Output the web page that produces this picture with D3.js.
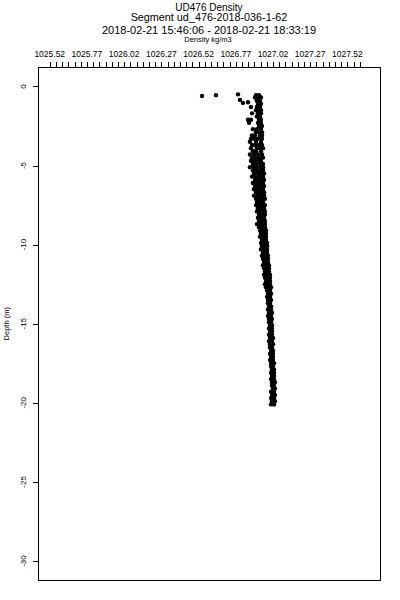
<!DOCTYPE html>
<html>
<head>
<meta charset="utf-8">
<script src="https://cdn.jsdelivr.net/npm/d3@7"></script>
<style>
  html, body { margin: 0; padding: 0; background: #fff; }
  svg { display: block; }
</style>
</head>
<body>
<div id="chart"></div>
<script>
// titles
const titleLines = ['UD476 Density', 'Segment ud_476-2018-036-1-62', '2018-02-21 15:46:06 - 2018-02-21 18:33:19'];
const xTitle = 'Density kg/m3';
const yTitle = 'Depth (m)';

// axis ticks
const xTickLabels = [1025.52, 1025.77, 1026.02, 1026.27, 1026.52, 1026.77, 1027.02, 1027.27, 1027.52];
const xMinorStep = 0.25 / 6;
const xMinorCount = 51;
const yTicks = [0, -5, -10, -15, -20, -25, -30];

// profile rows: [depth, density, density, ...]
const profile = [
  [-0.60, 1026.543], [-0.55, 1026.637], [-0.50, 1026.785],
  [-0.85, 1026.798], [-1.05, 1026.818], [-1.00, 1026.852],
  [-0.55, 1026.906, 1026.926], [-0.7, 1026.899, 1026.919, 1026.939],
  [-0.9, 1026.912, 1026.933], [-1.1, 1026.919, 1026.939],
  [-1.3, 1026.872, 1026.912, 1026.933], [-1.5, 1026.906, 1026.926, 1026.939],
  [-1.7, 1026.879, 1026.919, 1026.939], [-1.9, 1026.912, 1026.933],
  [-2.1, 1026.852, 1026.872, 1026.926, 1026.939], [-2.3, 1026.859, 1026.919, 1026.939],
  [-2.5, 1026.926, 1026.946], [-2.7, 1026.885, 1026.912, 1026.939],
  [-2.9, 1026.906, 1026.926, 1026.946], [-3.1, 1026.879, 1026.899, 1026.933, 1026.946],
  [-3.3, 1026.872, 1026.892, 1026.919, 1026.946], [-3.5, 1026.865, 1026.906, 1026.939],
  [-3.7, 1026.879, 1026.899, 1026.926, 1026.946], [-3.9, 1026.872, 1026.912, 1026.933, 1026.953],
  [-4.1, 1026.885, 1026.906, 1026.939], [-4.3, 1026.865, 1026.892, 1026.919, 1026.946],
  [-4.5, 1026.879, 1026.899, 1026.926, 1026.953], [-4.7, 1026.872, 1026.892, 1026.919, 1026.939],
  [-4.9, 1026.885, 1026.906, 1026.933, 1026.953], [-5.1, 1026.865, 1026.892, 1026.912, 1026.939, 1026.953],
  [-5.3, 1026.885, 1026.906, 1026.933, 1026.953], [-5.5, 1026.892, 1026.919, 1026.939, 1026.960],
  [-5.7, 1026.879, 1026.899, 1026.926, 1026.953], [-5.9, 1026.899, 1026.919, 1026.939, 1026.960],
  [-6.1, 1026.885, 1026.906, 1026.933, 1026.953], [-6.3, 1026.899, 1026.919, 1026.946, 1026.960],
  [-6.5, 1026.892, 1026.912, 1026.933, 1026.953], [-6.7, 1026.906, 1026.926, 1026.946, 1026.960],
  [-6.9, 1026.892, 1026.919, 1026.939, 1026.960], [-7.1, 1026.906, 1026.926, 1026.946, 1026.966],
  [-7.3, 1026.912, 1026.933, 1026.953], [-7.5, 1026.906, 1026.926, 1026.946, 1026.966],
  [-7.7, 1026.919, 1026.939, 1026.960], [-7.9, 1026.912, 1026.933, 1026.953, 1026.966],
  [-8.1, 1026.926, 1026.946, 1026.966], [-8.3, 1026.919, 1026.939, 1026.960],
  [-8.5, 1026.926, 1026.946, 1026.966], [-8.7, 1026.912, 1026.933, 1026.953, 1026.966],
  [-8.9, 1026.926, 1026.946, 1026.966], [-9.1, 1026.933, 1026.953, 1026.973],
  [-9.3, 1026.939, 1026.960, 1026.973], [-9.5, 1026.933, 1026.953, 1026.973],
  [-9.7, 1026.946, 1026.960, 1026.973], [-9.9, 1026.939, 1026.960, 1026.980],
  [-10.1, 1026.946, 1026.966, 1026.980], [-10.3, 1026.939, 1026.960, 1026.980],
  [-10.5, 1026.953, 1026.966, 1026.980], [-10.7, 1026.946, 1026.966, 1026.986],
  [-10.9, 1026.953, 1026.973, 1026.986], [-11.1, 1026.960, 1026.973, 1026.986],
  [-11.3, 1026.953, 1026.973, 1026.993], [-11.5, 1026.960, 1026.980, 1026.993],
  [-11.7, 1026.966, 1026.980, 1026.993], [-11.9, 1026.960, 1026.980, 1027.000],
  [-12.1, 1026.966, 1026.986, 1027.000], [-12.3, 1026.973, 1026.986, 1027.000],
  [-12.5, 1026.966, 1026.986, 1027.000], [-12.7, 1026.973, 1026.993, 1027.007],
  [-12.9, 1026.980, 1027.000], [-13.1, 1026.986, 1027.007],
  [-13.3, 1026.980, 1027.000], [-13.5, 1026.986, 1027.007],
  [-13.7, 1026.986, 1027.000], [-13.9, 1026.993, 1027.007],
  [-14.1, 1026.986, 1027.007], [-14.3, 1026.993, 1027.013],
  [-14.5, 1026.986, 1027.007], [-14.7, 1026.993, 1027.013],
  [-14.9, 1026.993, 1027.007], [-15.1, 1027.000, 1027.013],
  [-15.3, 1026.993, 1027.013], [-15.5, 1027.000, 1027.013],
  [-15.7, 1026.993, 1027.013], [-15.9, 1027.000, 1027.020],
  [-16.1, 1026.993, 1027.013], [-16.3, 1027.000, 1027.020],
  [-16.5, 1027.000, 1027.013], [-16.7, 1027.007, 1027.020],
  [-16.9, 1027.000, 1027.020], [-17.1, 1027.007, 1027.020],
  [-17.3, 1027.000, 1027.020], [-17.5, 1027.007, 1027.027],
  [-17.7, 1027.007, 1027.020], [-17.9, 1027.013, 1027.027],
  [-18.1, 1027.007, 1027.027], [-18.3, 1027.013, 1027.027],
  [-18.5, 1027.007, 1027.027], [-18.7, 1027.013, 1027.033],
  [-18.9, 1027.013, 1027.027], [-19.1, 1027.020, 1027.033],
  [-19.3, 1027.007, 1027.027], [-19.5, 1027.013, 1027.033],
  [-19.7, 1027.007, 1027.027], [-19.9, 1027.013, 1027.033],
  [-20.1, 1027.007, 1027.027]
];

const W = 400, H = 600;
const box = { left: 38, top: 67, right: 380, bottom: 580 };
const FONT = '"Liberation Sans", Arial, sans-serif';

const points = profile.flatMap(r => r.slice(1).map(d => ({ depth: r[0], density: d })));

const x = d3.scaleLinear().domain([1025.441, 1027.739]).range([box.left, box.right]);
const y = d3.scaleLinear().domain([1.23, -31.2]).range([box.top, box.bottom]);

const svg = d3.select('#chart').append('svg')
  .attr('width', W).attr('height', H)
  .style('background', '#fff');

// titles
const titleY = [10.5, 21, 33.5];
const titleSize = [10, 10.8, 11];
titleLines.forEach((t, i) => {
  svg.append('text').text(t)
    .attr('x', 209).attr('y', titleY[i])
    .attr('text-anchor', 'middle')
    .attr('font-family', FONT).attr('font-size', titleSize[i]).attr('fill', '#000');
});
svg.append('text').text(xTitle)
  .attr('x', 208).attr('y', 41.5)
  .attr('text-anchor', 'middle')
  .attr('font-family', FONT).attr('font-size', 7.5).attr('fill', '#000');

// frame
svg.append('rect')
  .attr('x', box.left + 0.5).attr('y', box.top + 0.5)
  .attr('width', box.right - box.left).attr('height', box.bottom - box.top)
  .attr('fill', 'none').attr('stroke', '#000').attr('stroke-width', 1);

// top axis: minor ticks + labels
const minor = d3.range(xMinorCount).map(i => xTickLabels[0] + i * xMinorStep);
const topG = svg.append('g');
topG.selectAll('line').data(minor).join('line')
  .attr('x1', d => Math.round(x(d)) + 0.5).attr('x2', d => Math.round(x(d)) + 0.5)
  .attr('y1', box.top - 5).attr('y2', box.top)
  .attr('stroke', '#000').attr('stroke-width', 1);
topG.selectAll('text').data(xTickLabels).join('text')
  .text(d => d.toFixed(2))
  .attr('x', d => x(d)).attr('y', 57)
  .attr('text-anchor', 'middle')
  .attr('font-family', FONT).attr('font-size', 8.5).attr('fill', '#000');

// left axis
const leftG = svg.append('g');
leftG.selectAll('line').data(yTicks).join('line')
  .attr('x1', box.left - 5).attr('x2', box.left)
  .attr('y1', d => Math.round(y(d)) + 0.5).attr('y2', d => Math.round(y(d)) + 0.5)
  .attr('stroke', '#000').attr('stroke-width', 1);
leftG.selectAll('text').data(yTicks).join('text')
  .text(d => d)
  .attr('transform', d => `translate(26,${y(d)}) rotate(-90)`)
  .attr('text-anchor', 'middle')
  .attr('font-family', FONT).attr('font-size', 8).attr('fill', '#000');
svg.append('text').text(yTitle)
  .attr('transform', `translate(9,${y(-15)}) rotate(-90)`)
  .attr('text-anchor', 'middle')
  .attr('font-family', FONT).attr('font-size', 7.5).attr('fill', '#000');

// data points
svg.append('g').selectAll('circle').data(points).join('circle')
  .attr('cx', d => x(d.density)).attr('cy', d => y(d.depth))
  .attr('r', 2.2).attr('fill', '#000');
</script>
</body>
</html>
